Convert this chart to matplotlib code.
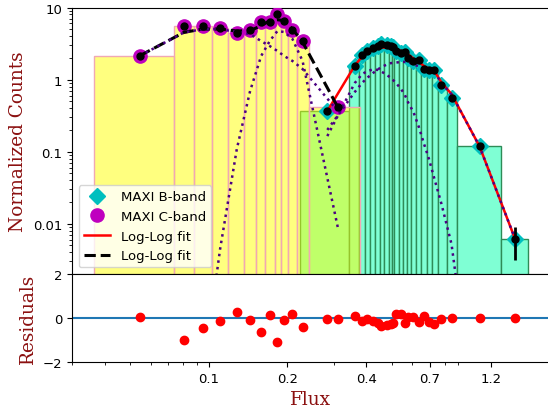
import matplotlib
matplotlib.use("Agg")
import matplotlib.pyplot as plt
import numpy as np
from matplotlib.ticker import FuncFormatter

# ---------------- data ----------------
c_flux = [0.0545, 0.0804, 0.0948, 0.1105, 0.1280, 0.1439, 0.1586, 0.1710, 0.1831,
          0.1943, 0.2090, 0.2284, 0.3114]
c_counts = [2.14, 5.59, 5.59, 5.19, 4.47, 4.87, 6.23, 6.35, 8.05, 6.49, 4.92, 3.46, 0.411]
c_err = [0.05, 0.1, 0.1, 0.1, 0.1, 0.1, 0.12, 0.12, 0.15, 0.12, 0.1, 0.08, 0.02]
c_fit = [2.14, 4.52, 5.02, 5.02, 4.72, 4.77, 5.59, 6.56, 6.77, 6.56, 5.02, 3.32, 0.415]
c_comp_broad = [2.14, 4.50, 5.00, 5.00, 4.57, 4.28, 3.42, 2.92, 2.49, 2.12, 1.81, 1.40, 0.365]
c_comp_narrow = [1e-12, 1e-7, 7.3e-5, 0.00443, 0.108, 0.692, 2.12, 3.42, 4.72, 4.57,
                 3.65, 1.81, 0.00894]
c_edges = [0.03645, 0.0736, 0.0881, 0.1027, 0.1183, 0.1365, 0.1518, 0.1643, 0.1787,
           0.1892, 0.2012, 0.2170, 0.2407, 0.3800]
c_resid = [0.03, -1.0, -0.47, -0.15, 0.29, -0.08, -0.63, 0.12, -1.11, -0.09, 0.17, -0.41, -0.05]

b_flux = [0.2840, 0.3616, 0.3860, 0.4041, 0.4246, 0.4432, 0.4572, 0.4787, 0.4968, 0.5047,
          0.5205, 0.5454, 0.5622, 0.5801, 0.6064, 0.6360, 0.6659, 0.6953, 0.7297, 0.7762,
          0.8478, 1.0854, 1.4845]
b_counts = [0.369, 1.56, 2.22, 2.49, 2.74, 2.95, 3.11, 3.06, 2.92, 2.83, 2.49, 2.33, 2.45,
            1.97, 1.82, 1.87, 1.38, 1.37, 1.36, 0.853, 0.559, 0.118, 0.0061]
b_err = [0.03, 0.08, 0.1, 0.1, 0.1, 0.1, 0.1, 0.1, 0.1, 0.1, 0.1, 0.1, 0.1, 0.08, 0.08,
         0.08, 0.06, 0.06, 0.06, 0.04, 0.03, 0.01, 0.003]
b_fit = [0.365, 1.56, 2.09, 2.37, 2.61, 2.74, 2.78, 2.78, 2.74, 2.70, 2.61, 2.49, 2.37,
         2.22, 1.96, 1.75, 1.54, 1.42, 1.31, 0.908, 0.629, 0.118, 0.0061]
b_comp_narrow = [0.164, 0.894, 1.19, 1.31, 1.38, 1.36, 1.29, 1.17, 1.05, 1.0, 0.894, 0.726,
                 0.610, 0.472, 0.354, 0.219, 0.127, 0.0787, 0.0415, 0.0187, 0.00519,
                 6.3e-6, 2.5e-9]
b_comp_broad = [0.20, 0.67, 0.90, 1.06, 1.23, 1.38, 1.49, 1.61, 1.69, 1.70, 1.72, 1.76,
                1.76, 1.75, 1.61, 1.53, 1.41, 1.34, 1.27, 0.889, 0.624, 0.118, 0.0061]
b_edges = [0.2224, 0.3432, 0.3765, 0.3953, 0.4142, 0.4337, 0.4503, 0.4674, 0.4876, 0.5007,
           0.5123, 0.5326, 0.5538, 0.5710, 0.5932, 0.6210, 0.6508, 0.6802, 0.7119, 0.7511,
           0.8165, 0.8917, 1.3148, 1.6680]
b_resid = [-0.05, 0.1, -0.14, -0.05, -0.12, -0.23, -0.38, -0.32, -0.27, -0.23, 0.18, 0.18,
           -0.24, 0.03, 0.06, -0.2, 0.1, -0.17, -0.27, -0.05, 0.0, 0.0, 0.0]

x_ticks = [0.1, 0.2, 0.4, 0.7, 1.2]
x_ticklabels = ["0.1", "0.2", "0.4", "0.7", "1.2"]

# ---------------- figure ----------------
W, H = 548, 414
fig = plt.figure(figsize=(W / 100, H / 100), dpi=100)

def fax(l, t, r, b):
    return [l / W, 1 - b / H, (r - l) / W, (b - t) / H]

ax = fig.add_axes(fax(72, 8.5, 549, 275))
ax2 = fig.add_axes(fax(72, 275, 549, 363), sharex=ax)

# histogram bars
be = np.array(b_edges)
ax.bar(be[:-1], b_counts, width=np.diff(be), align='edge', facecolor='aquamarine',
       edgecolor='seagreen', linewidth=1.0, zorder=1)
ce = np.array(c_edges)
ax.bar(ce[:-1], c_counts, width=np.diff(ce), align='edge', facecolor=(1, 1, 0, 0.5),
       edgecolor='#F0A8B4', linewidth=1.0, zorder=2)

# big markers
hB, = ax.plot(b_flux, b_counts, 'D', color='c', ms=8, ls='none', zorder=3, label='MAXI B-band')
hC, = ax.plot(c_flux, c_counts, 'o', color='m', ms=9.5, ls='none', zorder=3, label='MAXI C-band')

# fits
hR, = ax.plot(b_flux, b_fit, '-', color='red', lw=1.8, zorder=4, label='Log-Log fit')
hK, = ax.plot(c_flux, c_fit, '--', color='black', lw=2.2, zorder=4, label='Log-Log fit')

# components
for comp, xs in ((c_comp_broad, c_flux), (c_comp_narrow, c_flux),
                 (b_comp_narrow, b_flux), (b_comp_broad, b_flux)):
    ax.plot(xs, comp, ':', color='indigo', lw=1.8, zorder=5)

# black dots with error bars
ax.errorbar(b_flux, b_counts, yerr=b_err, fmt='o', color='black', ms=5, elinewidth=2,
            zorder=6)
ax.errorbar(c_flux, c_counts, yerr=c_err, fmt='o', color='black', ms=5, elinewidth=2,
            zorder=6)

ax.set_xscale('log')
ax.set_yscale('log')
ax.set_xlim(0.03, 2.0)
ax.set_ylim(0.002, 10)
ax.yaxis.set_major_formatter(FuncFormatter(lambda v, p: '%g' % v))
ax.tick_params(labelbottom=False, labelsize=9.5)
ax.spines['right'].set_visible(False)

lab_font = dict(family='DejaVu Serif', color='#8B1010', fontsize=13.3)
ax.set_ylabel('Normalized Counts', **lab_font)

ax.legend(handles=[hB, hC, hR, hK], loc='lower left', fontsize=9.5, framealpha=0.8)

# residuals
ax2.axhline(0, color='C0', lw=1.5, zorder=1)
ax2.plot(c_flux, c_resid, 'o', color='red', ms=6, ls='none', zorder=2)
ax2.plot(b_flux, b_resid, 'o', color='red', ms=6, ls='none', zorder=2)
ax2.set_ylim(-2, 2)
ax2.set_yticks([-2, 0, 2])
ax2.set_xticks(x_ticks)
ax2.set_xticklabels(x_ticklabels)
ax2.tick_params(labelsize=9.5)
ax2.spines['right'].set_visible(False)
ax2.set_ylabel('Residuals', **lab_font)
ax2.set_xlabel('Flux', **lab_font)

fig.align_ylabels([ax, ax2])
fig.savefig('out.png', dpi=100)
